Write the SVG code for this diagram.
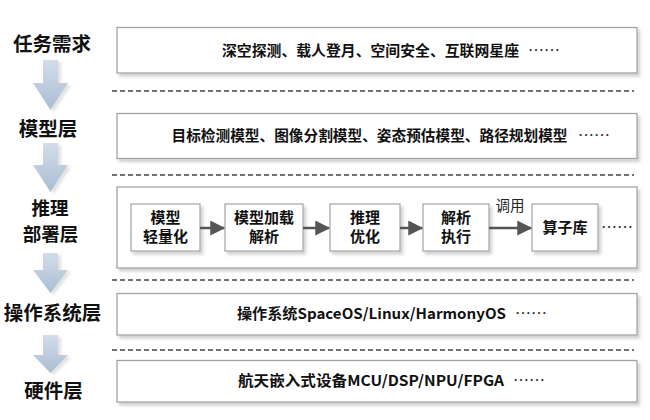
<svg xmlns="http://www.w3.org/2000/svg" width="650" height="420" viewBox="0 0 650 420">
<defs>
<style>
.lbl{font-family:"Noto Sans CJK SC","Noto Sans",sans-serif;font-weight:bold;font-size:19.5px;fill:#111;text-anchor:middle}
.bt{font-family:"Noto Sans CJK SC","Noto Sans",sans-serif;font-weight:bold;font-size:14.5px;fill:#111}
.it{font-family:"Noto Sans CJK SC","Noto Sans",sans-serif;font-weight:bold;font-size:15px;fill:#111;text-anchor:middle}
.dots{font-family:"Noto Sans CJK SC",sans-serif;font-size:16px;fill:#333}
.box{fill:#fff;stroke:#a3a3a3;stroke-width:1.3;filter:url(#sh)}
.ibox{fill:#fff;stroke:#a3a3a3;stroke-width:1.2;filter:url(#sh)}
.dash{stroke:#444;stroke-width:1.5;stroke-dasharray:5 3;fill:none}
.con{stroke:#555;stroke-width:2.5;fill:none;marker-end:url(#ah)}
.big{fill:url(#bg);filter:url(#sh2)}
</style>
<filter id="sh" x="-10%" y="-20%" width="120%" height="150%">
<feDropShadow dx="2.5" dy="3" stdDeviation="1.5" flood-color="#000" flood-opacity="0.18"/>
</filter>
<filter id="sh2" x="-20%" y="-20%" width="150%" height="150%">
<feDropShadow dx="3" dy="2" stdDeviation="1.5" flood-color="#000" flood-opacity="0.12"/>
</filter>
<linearGradient id="bg" x1="0" y1="0" x2="0" y2="1">
<stop offset="0" stop-color="#d3dde9"/>
<stop offset="1" stop-color="#a9bdd3"/>
</linearGradient>
<marker id="ah" markerWidth="6" markerHeight="6" refX="5.5" refY="3" orient="auto" markerUnits="strokeWidth">
<path d="M0,0 L6,3 L0,6 Z" fill="#555"/>
</marker>
</defs>
<rect width="650" height="420" fill="#fff"/>

<g id="layer-labels">
<text class="lbl" x="52" y="50.5">任务需求</text>
<text class="lbl" x="48" y="135.5">模型层</text>
<text class="lbl" style="font-size:18.5px"><tspan x="50" y="214.5">推理</tspan><tspan x="50.5" y="241">部署层</tspan></text>
<text class="lbl" x="52.5" y="319.5">操作系统层</text>
<text class="lbl" x="53.5" y="397.5">硬件层</text>
</g>

<g id="big-arrows">
<path class="big" d="M43,60 H58 V83 H68 L50.5,110 L33,83 H43 Z"/>
<path class="big" d="M43,143 H58 V165 H68 L50.5,192 L33,165 H43 Z"/>
<path class="big" d="M43,253 H58 V270 H68 L50.5,293 L33,270 H43 Z"/>
<path class="big" d="M43,335 H58 V355 H68 L50.5,373 L33,355 H43 Z"/>
</g>

<g id="separators">
<line class="dash" x1="112" y1="91" x2="634" y2="91"/>
<line class="dash" x1="112" y1="175" x2="634" y2="175"/>
<line class="dash" x1="112" y1="280" x2="634" y2="280"/>
<line class="dash" x1="112" y1="350" x2="634" y2="350"/>
</g>

<g id="task-layer">
<rect class="box" x="117" y="27.5" width="520" height="45.5"/>
<text class="bt" x="222" y="56" textLength="297" lengthAdjust="spacingAndGlyphs">深空探测、载人登月、空间安全、互联网星座</text>
<text class="dots" x="528" y="56">……</text>
</g>

<g id="model-layer">
<rect class="box" x="117" y="113.5" width="520" height="45"/>
<text class="bt" x="171.5" y="140.5" textLength="396" lengthAdjust="spacingAndGlyphs">目标检测模型、图像分割模型、姿态预估模型、路径规划模型</text>
<text class="dots" x="578" y="140.5">……</text>
</g>

<g id="deploy-layer">
<rect class="box" x="117" y="187" width="520" height="81"/>
</g>

<g id="node-lightweight">
<rect class="ibox" x="131" y="204" width="69" height="47"/>
<text class="it" x="165.5" y="222.5">模型</text>
<text class="it" x="165.5" y="241.5">轻量化</text>
</g>
<g id="node-load">
<rect class="ibox" x="225" y="204" width="78" height="47"/>
<text class="it" x="264" y="222.5">模型加载</text>
<text class="it" x="264" y="241.5">解析</text>
</g>
<g id="node-optimize">
<rect class="ibox" x="330" y="204" width="70" height="47"/>
<text class="it" x="365" y="222.5">推理</text>
<text class="it" x="365" y="241.5">优化</text>
</g>
<g id="node-execute">
<rect class="ibox" x="423" y="204" width="66" height="47"/>
<text class="it" x="456" y="222.5">解析</text>
<text class="it" x="456" y="242">执行</text>
</g>
<g id="node-oplib">
<rect class="ibox" x="532" y="204" width="66" height="47"/>
<text class="it" x="565" y="233">算子库</text>
</g>

<g id="connectors">
<line class="con" x1="200" y1="228" x2="224" y2="228"/>
<line class="con" x1="303" y1="228" x2="329" y2="228"/>
<line class="con" x1="400" y1="228" x2="422" y2="228"/>
<line class="con" x1="489" y1="228" x2="531" y2="228"/>
<text x="510" y="211" style="font-family:'Noto Sans CJK SC',sans-serif;font-size:14.5px;fill:#222;text-anchor:middle">调用</text>
<text class="dots" x="601" y="233">……</text>
</g>

<g id="os-layer">
<rect class="box" x="117" y="293.5" width="520" height="41.5"/>
<text class="bt" x="237" y="318.5" textLength="269" lengthAdjust="spacingAndGlyphs">操作系统SpaceOS/Linux/HarmonyOS</text>
<text class="dots" x="515" y="318.5">……</text>
</g>

<g id="hw-layer">
<rect class="box" x="117" y="360.5" width="520" height="41.5"/>
<text class="bt" x="238" y="386" textLength="266" lengthAdjust="spacingAndGlyphs">航天嵌入式设备MCU/DSP/NPU/FPGA</text>
<text class="dots" x="513" y="386">……</text>
</g>
</svg>
